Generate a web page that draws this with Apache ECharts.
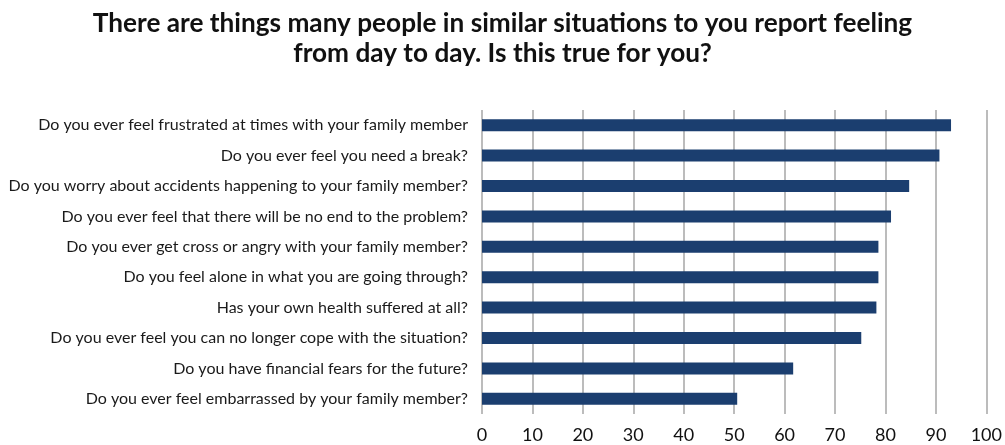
<!DOCTYPE html>
<html><head><meta charset="utf-8">
<script src="https://cdn.jsdelivr.net/npm/echarts@6/dist/echarts.min.js"></script>
<style>html,body{margin:0;padding:0;background:#fff}#c{width:1005px;height:445px}</style>
</head><body><div id="c"></div>
<script>
const titleLines = ["There are things many people in similar situations to you report feeling", "from day to day. Is this true for you?"];
const categories = [
  "Do you ever feel frustrated at times with your family member",
  "Do you ever feel you need a break?",
  "Do you worry about accidents happening to your family member?",
  "Do you ever feel that there will be no end to the problem?",
  "Do you ever get cross or angry with your family member?",
  "Do you feel alone in what you are going through?",
  "Has your own health suffered at all?",
  "Do you ever feel you can no longer cope with the situation?",
  "Do you have financial fears for the future?",
  "Do you ever feel embarrassed by your family member?"
];
const values = [93.0, 90.7, 84.7, 81.1, 78.6, 78.6, 78.2, 75.2, 61.7, 50.6];
const xTicks = {min: 0, max: 100, interval: 10};

const chart = echarts.init(document.getElementById('c'), null, {renderer: 'canvas'});
chart.setOption({
  backgroundColor: '#ffffff',
  animation: false,
  title: {
    text: titleLines.join('\n'),
    left: 'center', top: 4,
    textStyle: {fontFamily: 'Lato', fontWeight: 'bold', fontSize: 26.2, lineHeight: 30, color: '#111'}
  },
  grid: {left: 482, right: 18, top: 110, bottom: 31, containLabel: false},
  xAxis: {
    type: 'value', min: xTicks.min, max: xTicks.max, interval: xTicks.interval,
    axisLine: {show: false}, axisTick: {show: false},
    axisLabel: {fontFamily: 'Lato', fontSize: 18, color: '#111', margin: 12},
    splitLine: {show: true, lineStyle: {color: '#a6a6a6', width: 1.5}}
  },
  yAxis: {
    type: 'category', data: categories, inverse: true,
    axisLine: {show: false}, axisTick: {show: false},
    axisLabel: {fontFamily: 'Lato', fontSize: 16, color: '#1a1a1a', margin: 14}
  },
  series: [{
    type: 'bar', data: values, barWidth: 12,
    itemStyle: {color: '#1b3e6f'}
  }]
});
</script></body></html>
